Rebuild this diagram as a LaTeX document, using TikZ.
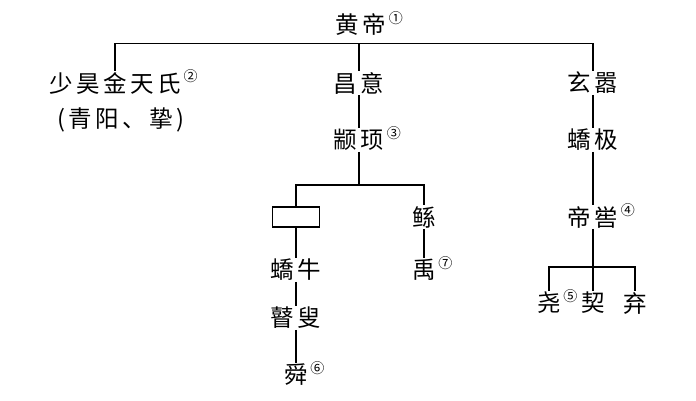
\documentclass[tikz,border=0pt]{standalone}
\usepackage{fontspec}
\newfontfamily\cjk[LetterSpace=15]{Noto Sans CJK SC}
\newfontfamily\cjknum{Noto Sans CJK SC}
\begin{document}
\begin{tikzpicture}[x=1pt,y=-1pt,line width=1.2pt,
    person/.style={font=\cjk\fontsize{23.5}{24}\selectfont,inner sep=0.5pt},
    cnum/.style={font=\cjknum\fontsize{14}{14}\selectfont,inner sep=0pt,anchor=west,xshift=1pt,yshift=7pt}]
        \useasboundingbox (0,0) rectangle (696,400);
        %% Names
        \node[person,label={[cnum]east:①}] (hd) at (361,25) {黄帝};
        \node[person,label={[cnum]east:②}] (shao) at (115,83) {少昊金天氏};
        \node[person] (qing) at (121,120) {(青阳、挚)};
        \node[person] (chang) at (359,83) {昌意};
        \node[person,label={[cnum]east:③}] (zhuan) at (359,140) {颛顼};
        \node[person] (xuan) at (593,83) {玄嚣};
        \node[person] (jiao) at (593,140) {蟜极};
        \node[person,label={[cnum]east:④}] (ku) at (593,217) {帝喾};
        \node[draw,minimum width=47pt,minimum height=20pt,inner sep=0pt] (blank) at (296,217) {};
        \node[person] (niu) at (296,270) {蟜牛};
        \node[person] (gu) at (296,318) {瞽叟};
        \node[person,label={[cnum]east:⑥}] (shun) at (296,375) {舜};
        \node[person] (gun) at (424,217) {鲧};
        \node[person,label={[cnum]east:⑦}] (yu) at (424,270) {禹};
        \node[person,label={[cnum]east:⑤}] (yao) at (549,303) {尧};
        \node[person] (xie) at (593,303) {契};
        \node[person] (qi) at (635,303) {弃};
        %% Lines
        \coordinate (bar) at (359,43.5);
        \coordinate (fork) at (359,185);
        \coordinate (fork2) at (593,267);
        \draw (shao.north) |- (bar) -| (xuan.north);
        \draw (bar) -- (chang.north);
        \draw (chang.south) -- (zhuan.north);
        \draw (zhuan.south) -- (fork);
        \draw (blank.north) |- (fork) -| (gun.north);
        \draw (blank.south) -- (niu.north);
        \draw (niu.south) -- (gu.north);
        \draw (gu.south) -- (shun.north);
        \draw (gun.south) -- (yu.north);
        \draw (xuan.south) -- (jiao.north);
        \draw (jiao.south) -- (ku.north);
        \draw (ku.south) -- (fork2);
        \draw (yao.north) |- (fork2) -| (qi.north);
        \draw (xie.north) -- (fork2);
\end{tikzpicture}
\end{document}
